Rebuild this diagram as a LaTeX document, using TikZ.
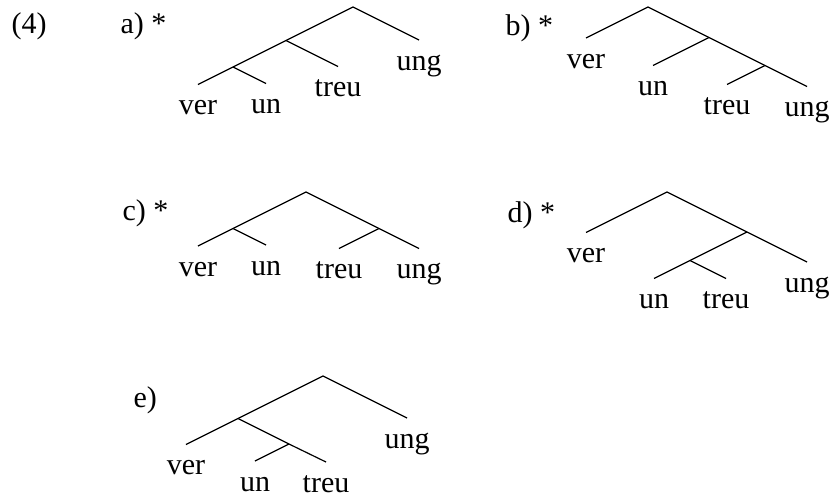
\documentclass[tikz,border=0pt]{standalone}
\usepackage{fontspec}
\setmainfont{Liberation Serif}
\begin{document}
\begin{tikzpicture}[x=0.5pt,y=-0.5pt,line width=0.6pt,
    every node/.style={font=\fontsize{15}{18}\selectfont},
    leaf/.style={anchor=north,inner xsep=0pt,inner ysep=4pt,text height=10.75pt,text depth=0pt},
    tag/.style={anchor=base west,inner sep=0pt}]
  \useasboundingbox (0,0) rectangle (830,495);
  \node[tag] (ex) at (11,33) {(4)};
  % a)
  \node[tag] (atag) at (120,33) {a) *};
  \coordinate (a0) at (353,7);
  \coordinate (a1) at (286,40.5);
  \coordinate (a2) at (233,67);
  \node[leaf] (aver) at (198,84.5) {ver};
  \node[leaf] (aun) at (266,83.5) {un};
  \node[leaf] (atreu) at (338,66.5) {treu};
  \node[leaf] (aung) at (419,40) {ung};
  \draw (aver.north) -- (a2) -- (a1) -- (a0) -- (aung.north);
  \draw (a2) -- (aun.north);
  \draw (a1) -- (atreu.north);
  % b)
  \node[tag] (btag) at (505,35) {b) *};
  \coordinate (b0) at (648,7);
  \coordinate (b1) at (709,37.5);
  \coordinate (b2) at (765,65.5);
  \node[leaf] (bver) at (586,38) {ver};
  \node[leaf] (bun) at (653,65.5) {un};
  \node[leaf] (btreu) at (727,84.5) {treu};
  \node[leaf] (bung) at (807,86.5) {ung};
  \draw (bver.north) -- (b0) -- (b1) -- (b2) -- (bung.north);
  \draw (b1) -- (bun.north);
  \draw (b2) -- (btreu.north);
  % c)
  \node[tag] (ctag) at (122,220) {c) *};
  \coordinate (c0) at (306,192);
  \coordinate (c1) at (233,228.5);
  \coordinate (c2) at (379,228.5);
  \node[leaf] (cver) at (198,246) {ver};
  \node[leaf] (cun) at (266,245) {un};
  \node[leaf] (ctreu) at (339,248.5) {treu};
  \node[leaf] (cung) at (419,248.5) {ung};
  \draw (cver.north) -- (c1) -- (c0) -- (c2) -- (cung.north);
  \draw (c1) -- (cun.north);
  \draw (c2) -- (ctreu.north);
  % d)
  \node[tag] (dtag) at (507,222) {d) *};
  \coordinate (d0) at (667,192);
  \coordinate (d1) at (747,232);
  \coordinate (d2) at (690,260.5);
  \node[leaf] (dver) at (586,232.5) {ver};
  \node[leaf] (dun) at (654,278.5) {un};
  \node[leaf] (dtreu) at (726,278.5) {treu};
  \node[leaf] (dung) at (807,262) {ung};
  \draw (dver.north) -- (d0) -- (d1) -- (dung.north);
  \draw (d1) -- (d2) -- (dun.north);
  \draw (d2) -- (dtreu.north);
  % e)
  \node[tag] (etag) at (133,407) {e)};
  \coordinate (e0) at (323,376);
  \coordinate (e1) at (238,418.5);
  \coordinate (e2) at (289,444);
  \node[leaf] (ever) at (186,444.5) {ver};
  \node[leaf] (eun) at (255,461) {un};
  \node[leaf] (etreu) at (326,462) {treu};
  \node[leaf] (eung) at (407,418) {ung};
  \draw (ever.north) -- (e1) -- (e0) -- (eung.north);
  \draw (e1) -- (e2) -- (etreu.north);
  \draw (e2) -- (eun.north);
\end{tikzpicture}
\end{document}
